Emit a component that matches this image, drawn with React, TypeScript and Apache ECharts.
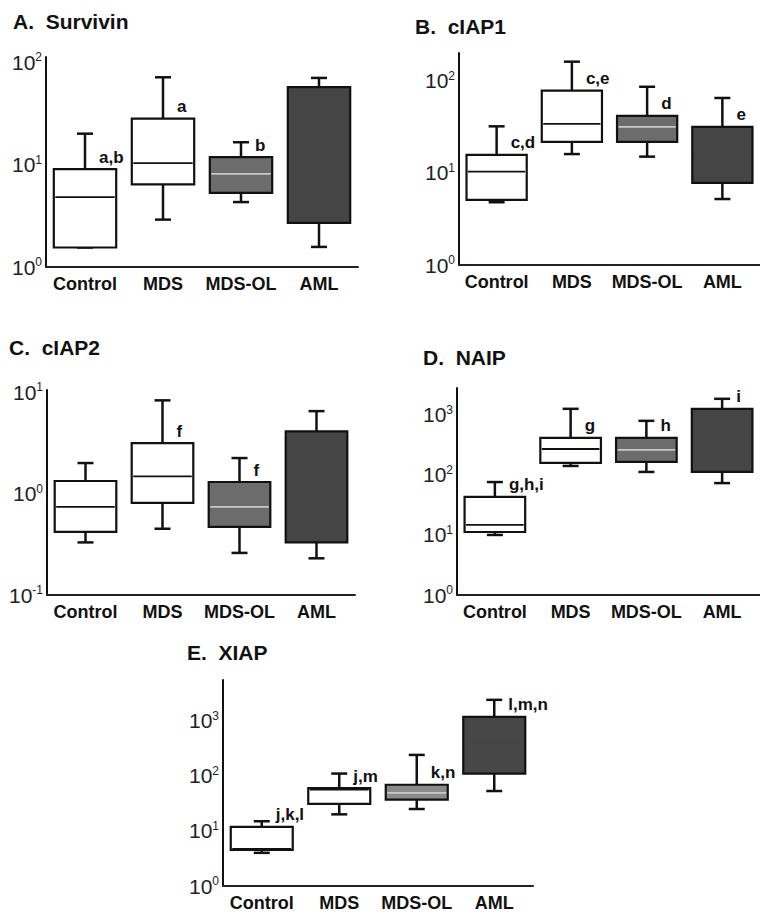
import React, { useEffect, useRef } from 'react';
import * as echarts from 'echarts';

const FONT = '"Liberation Sans", Arial, Helvetica, sans-serif';

const categories = ['Control', 'MDS', 'MDS-OL', 'AML'];

// [min, q1, median, q3, max] per category
const survivin = [
  [1.55, 1.55, 4.8, 9.0, 20],
  [2.9, 6.4, 10.3, 28, 71],
  [4.3, 5.3, 8.1, 11.8, 16.5],
  [1.57, 2.7, 12, 57, 70],
];
const ciap1 = [
  [4.8, 5.1, 10.3, 15.7, 32],
  [16, 21.7, 34, 78, 161],
  [15, 21.7, 31.6, 41.6, 86],
  [5.2, 7.8, 15, 31.6, 65],
];
const ciap2 = [
  [0.33, 0.42, 0.74, 1.33, 2.0],
  [0.45, 0.81, 1.48, 3.15, 8.3],
  [0.26, 0.47, 0.74, 1.3, 2.24],
  [0.23, 0.33, 1.2, 4.1, 6.5],
];
const naip = [
  [10, 11.2, 14.7, 43, 76],
  [141, 158, 270, 415, 1260],
  [112, 165, 262, 415, 795],
  [73, 112, 400, 1260, 1850],
];
const xiap = [
  [4.0, 4.5, 4.7, 11.8, 15],
  [20, 31, 56, 60, 110],
  [25, 37, 49, 69, 240],
  [53, 110, 400, 1180, 2400],
];

const letters = [
  ['a,b', 'a', 'b', ''],
  ['c,d', 'c,e', 'd', 'e'],
  ['', 'f', 'f', ''],
  ['g,h,i', 'g', 'h', 'i'],
  ['j,k,l', 'j,m', 'k,n', 'l,m,n'],
];

const titles = ['A.  Survivin', 'B.  cIAP1', 'C.  cIAP2', 'D.  NAIP', 'E.  XIAP'];
const yMins = [1, 1, 0.1, 1, 1];
const yMaxs = [112, 200, 10.5, 2800, 5500];

const panelData = [survivin, ciap1, ciap2, naip, xiap];

// layout (pixels)
const grids = [
  { left: 46, top: 57, width: 312, height: 210 },
  { left: 459, top: 53, width: 312, height: 212 },
  { left: 47, top: 390, width: 308, height: 205 },
  { left: 457, top: 388, width: 312, height: 207 },
  { left: 223, top: 680, width: 310, height: 206 },
];
const titlePos = [
  { left: 13, top: 11 },
  { left: 415, top: 16 },
  { left: 9, top: 337 },
  { left: 423, top: 347 },
  { left: 187, top: 642 },
];

const fills = ['#ffffff', '#ffffff', '#6c6c6c', '#454545'];
const fillsE = ['#ffffff', '#ffffff', '#8a8a8a', '#474747'];
const medianColors = ['#111111', '#111111', '#c8c8c8', '#454545'];

function makeRender(p: number) {
  return (params: any, api: any) => {
    const i = api.value(0);
    const cs = params.coordSys;
    const bw = (cs.width / categories.length) * 0.8;
    const cx = api.coord([i, api.value(3)])[0];
    const yMin = api.coord([i, api.value(1)])[1];
    const yQ1 = api.coord([i, api.value(2)])[1];
    const yMed = api.coord([i, api.value(3)])[1];
    const yQ3 = api.coord([i, api.value(4)])[1];
    const yMax = api.coord([i, api.value(5)])[1];
    const cap = 16;
    const ls = { stroke: '#111', lineWidth: 2.5 };
    const fill = (p === 4 ? fillsE : fills)[i];
    const children: any[] = [
      { type: 'line', shape: { x1: cx, y1: yMax, x2: cx, y2: yQ3 }, style: ls },
      { type: 'line', shape: { x1: cx - cap / 2, y1: yMax, x2: cx + cap / 2, y2: yMax }, style: ls },
      { type: 'line', shape: { x1: cx, y1: yQ1, x2: cx, y2: yMin }, style: ls },
      { type: 'line', shape: { x1: cx - cap / 2, y1: yMin, x2: cx + cap / 2, y2: yMin }, style: ls },
      {
        type: 'rect',
        shape: { x: cx - bw / 2, y: yQ3, width: bw, height: yQ1 - yQ3 },
        style: { fill, stroke: '#111', lineWidth: 2.2 },
      },
      {
        type: 'line',
        shape: { x1: cx - bw / 2 + 1.5, y1: yMed, x2: cx + bw / 2 - 1.5, y2: yMed },
        style: { stroke: medianColors[i], lineWidth: 1.8 },
      },
    ];
    const lab = letters[p][i];
    if (lab) {
      children.push({
        type: 'text',
        x: cx + 14,
        y: yQ3 - 12,
        style: {
          text: lab,
          fill: '#111',
          fontSize: 17,
          fontWeight: 'bold',
          fontFamily: FONT,
          align: 'left',
          verticalAlign: 'middle',
        },
      });
    }
    return { type: 'group', children };
  };
}

function yLabel(v: number) {
  const e = Math.log10(v);
  const r = Math.round(e);
  if (Math.abs(e - r) > 1e-6) return '';
  return '{b|10}{s|' + r + '}';
}

export default function App() {
  const ref = useRef<HTMLDivElement>(null);
  useEffect(() => {
    if (!ref.current) return;
    const chart = echarts.init(ref.current, null, { renderer: 'svg' });
    const option: any = {
      animation: false,
      backgroundColor: '#ffffff',
      grid: grids.map((g) => ({ ...g, containLabel: false })),
      xAxis: grids.map((_, k) => ({
        type: 'category',
        gridIndex: k,
        data: categories,
        axisLine: { show: true, lineStyle: { color: '#222', width: 2 } },
        axisTick: { show: false },
        axisLabel: {
          margin: 8,
          color: '#111',
          fontSize: 18,
          fontWeight: 'bold',
          fontFamily: FONT,
          interval: 0,
        },
        splitLine: { show: false },
      })),
      yAxis: grids.map((_, k) => ({
        type: 'log',
        logBase: 10,
        gridIndex: k,
        min: yMins[k],
        max: yMaxs[k],
        interval: 1,
        axisLine: { show: true, lineStyle: { color: '#111', width: 2 } },
        axisTick: { show: false },
        splitLine: { show: false },
        axisLabel: {
          margin: 4,
          fontSize: 21,
          fontFamily: FONT,
          color: '#222',
          formatter: yLabel,
          rich: {
            b: { fontSize: 21, fontFamily: FONT, color: '#222', lineHeight: 22 },
            s: { fontSize: 12, fontFamily: FONT, color: '#222', verticalAlign: 'top', lineHeight: 12 },
          },
        },
      })),
      series: panelData.map((d, k) => ({
        type: 'custom',
        xAxisIndex: k,
        yAxisIndex: k,
        clip: false,
        renderItem: makeRender(k),
        encode: { x: 0, y: [1, 2, 3, 4, 5] },
        data: d.map((row, i) => [i, ...row]),
      })),
      graphic: titles.map((t, k) => ({
        type: 'text',
        left: titlePos[k].left,
        top: titlePos[k].top,
        style: {
          text: t,
          fill: '#111',
          fontSize: 21,
          fontWeight: 'bold',
          fontFamily: FONT,
        },
      })),
    };
    chart.setOption(option);
    return () => chart.dispose();
  }, []);
  return (
    <div
      ref={ref}
      style={{ position: 'fixed', left: 0, top: 0, width: 760, height: 916, background: '#fff' }}
    />
  );
}
